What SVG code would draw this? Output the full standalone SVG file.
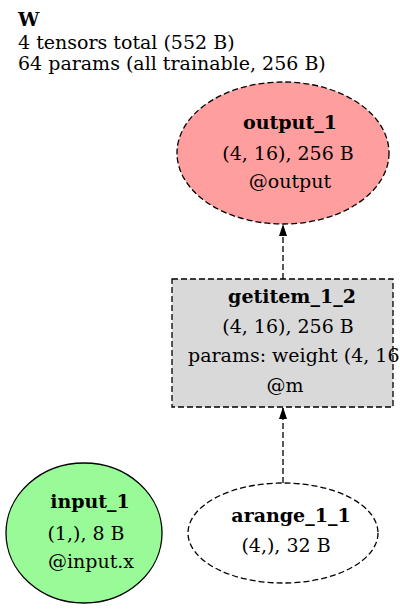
<svg xmlns="http://www.w3.org/2000/svg" width="400" height="610" viewBox="0 0 400 610">
<style>
text{font-family:"DejaVu Serif","Liberation Serif",serif;font-size:19px;fill:#000}
.b{font-weight:bold}
.c{text-anchor:middle}
.e{stroke:#000;stroke-width:1.3;stroke-dasharray:6,3}
</style>
<defs>
<marker id="ah" markerWidth="12" markerHeight="10" refX="11" refY="4.5" orient="auto" markerUnits="userSpaceOnUse">
<path d="M0,0.5 L12,4.5 L0,8.5 Z" fill="#000"/>
</marker>
</defs>
<rect width="400" height="610" fill="#fff"/>
<g id="title">
<text x="18" y="26" class="b">W</text>
<text x="18" y="49">4 tensors total (552 B)</text>
<text x="18" y="70">64 params (all trainable, 256 B)</text>
</g>
<g id="connectors" fill="none" stroke="#000" stroke-width="1.3">
<line x1="283" y1="279" x2="283" y2="225" stroke-dasharray="6,3" marker-end="url(#ah)"/>
<line x1="283" y1="483" x2="283" y2="408" stroke-dasharray="6,3" marker-end="url(#ah)"/>
</g>
<g id="output_1">
<ellipse cx="283" cy="153" rx="106" ry="71" fill="#ff9e9e" class="e"/>
<text x="290" y="129" class="b c">output_1</text>
<text x="288" y="160" class="c">(4, 16), 256 B</text>
<text x="290" y="188" class="c">@output</text>
</g>
<g id="getitem_1_2">
<rect x="172" y="279" width="221" height="128" fill="#d9d9d9" class="e"/>
<text x="292" y="303" class="b c">getitem_1_2</text>
<text x="288" y="333" class="c">(4, 16), 256 B</text>
<text x="188" y="362">params: weight (4, 16)</text>
<text x="285" y="392" class="c">@m</text>
</g>
<g id="input_1">
<ellipse cx="84" cy="533" rx="78" ry="70" fill="#98fb98" stroke="#000" stroke-width="1.3"/>
<text x="90" y="508" class="b c">input_1</text>
<text x="86" y="540" class="c">(1,), 8 B</text>
<text x="91" y="568" class="c">@input.x</text>
</g>
<g id="arange_1_1">
<ellipse cx="283" cy="533" rx="95" ry="50" fill="#fff" class="e"/>
<text x="291" y="522" class="b c">arange_1_1</text>
<text x="286" y="552" class="c">(4,), 32 B</text>
</g>
</svg>
